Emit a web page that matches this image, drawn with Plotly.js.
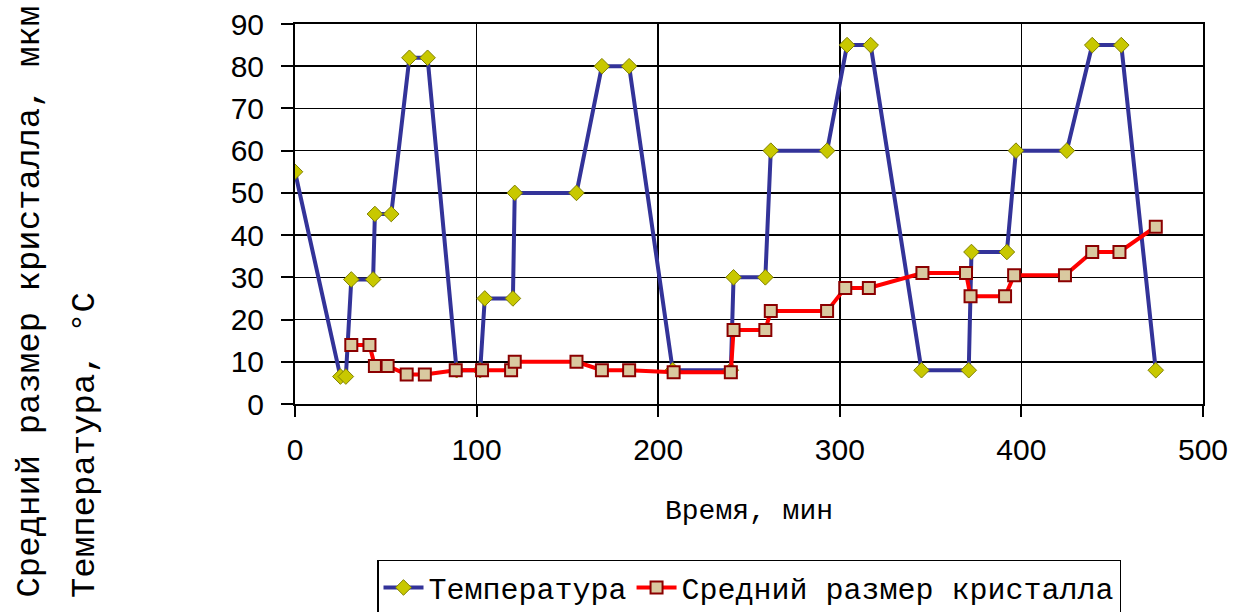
<!DOCTYPE html>
<html>
<head>
<meta charset="utf-8">
<script src="https://cdn.plot.ly/plotly-3.0.1.min.js"></script>
<style>html,body{margin:0;padding:0;background:#fff;}#chart{width:1242px;height:612px;}</style>
</head>
<body>
<div id="chart"></div>
<script>
// Temperature series (time, min / °C)
const timeTemp = [0, 25, 28, 31, 43, 44, 53, 63, 73, 89, 102, 104.5, 120, 121, 155, 169, 184, 208, 240, 241.5, 259, 262, 293, 304, 317, 345, 371, 372.5, 392, 397, 425, 439, 455, 474];
const temp = [55, 6.5, 6.5, 29.5, 29.5, 45, 45, 82, 82, 8, 8, 25, 25, 50, 50, 80, 80, 8, 8, 30, 30, 60, 60, 85, 85, 8, 8, 36, 36, 60, 60, 85, 85, 8];

// Mean crystal size series (time, min / µm)
const timeSize = [31, 41, 44, 51, 61.5, 71.5, 88.5, 103, 119, 121, 155, 169, 184, 208.5, 240, 241.5, 259, 262, 293, 303, 316, 345.5, 369.5, 372, 391, 396, 424, 439, 454, 474];
const size = [14, 14, 9, 9, 7, 7, 8, 8, 8, 10, 10, 8, 8, 7.5, 7.5, 17.5, 17.5, 22, 22, 27.5, 27.5, 31, 31, 25.5, 25.5, 30.5, 30.5, 36, 36, 42];

const seriesNames = ["Температура", "Средний размер кристалла"];
const xTickVals = [0, 100, 200, 300, 400, 500];
const yTickVals = [0, 10, 20, 30, 40, 50, 60, 70, 80, 90];
const xTitle = "Время, мин";
const yTitleLines = ["Средний размер кристалла, мкм", "Температура, °С"];

const traces = [
  {
    x: timeTemp, y: temp, name: seriesNames[0], type: "scatter", mode: "lines+markers",
    line: {color: "#333399", width: 4},
    marker: {symbol: "diamond", size: 12, color: "#c8c800", line: {color: "#808000", width: 1}}
  },
  {
    x: timeSize, y: size, name: seriesNames[1], type: "scatter", mode: "lines+markers",
    line: {color: "#ff0000", width: 4},
    marker: {symbol: "square", size: 12, color: "#d9c9a0", line: {color: "#8b0000", width: 2}}
  }
];

const monoFont = "'Liberation Mono', 'Courier New', monospace";
const sansFont = "'Liberation Sans', Arial, sans-serif";

const layout = {
  width: 1242, height: 612,
  margin: {l: 295, r: 39, t: 24, b: 208, autoexpand: false},
  paper_bgcolor: "#ffffff", plot_bgcolor: "#ffffff",
  showlegend: true,
  legend: {
    orientation: "h", x: 0.5, xanchor: "center", yref: "container", y: 0.085, yanchor: "top",
    bordercolor: "#000000", borderwidth: 1.5, bgcolor: "#ffffff",
    font: {family: monoFont, size: 30, color: "#000"},
    itemwidth: 40, tracegroupgap: 0
  },
  xaxis: {
    range: [0, 500], tickvals: xTickVals, ticktext: xTickVals.map(String),
    showgrid: true, gridcolor: "#000000", gridwidth: 1.5,
    showline: true, linecolor: "#000000", linewidth: 2, mirror: true,
    ticks: "outside", ticklen: 11, tickcolor: "#000", tickwidth: 2,
    ticklabelstandoff: 7,
    tickfont: {family: sansFont, size: 30, color: "#000"},
    zeroline: false, automargin: false,
    title: {text: xTitle, font: {family: monoFont, size: 28, color: "#000"}, standoff: 34}
  },
  yaxis: {
    range: [0, 90], tickvals: yTickVals, ticktext: yTickVals.map(String),
    showgrid: true, gridcolor: "#000000", gridwidth: 1.5,
    showline: true, linecolor: "#000000", linewidth: 2, mirror: true,
    ticks: "outside", ticklen: 12, tickcolor: "#000", tickwidth: 2,
    ticklabelstandoff: 11,
    tickfont: {family: sansFont, size: 30, color: "#000"},
    zeroline: false, automargin: false
  },
  annotations: [
    {text: yTitleLines[0], xref: "paper", yref: "paper", x: -0.292, y: -0.515,
     xanchor: "center", yanchor: "bottom", textangle: -90, showarrow: false,
     font: {family: monoFont, size: 34, color: "#000"}},
    {text: yTitleLines[1], xref: "paper", yref: "paper", x: -0.232, y: -0.515,
     xanchor: "center", yanchor: "bottom", textangle: -90, showarrow: false,
     font: {family: monoFont, size: 34, color: "#000"}}
  ]
};

Plotly.newPlot("chart", traces, layout, {displayModeBar: false, staticPlot: true});
</script>
</body>
</html>
